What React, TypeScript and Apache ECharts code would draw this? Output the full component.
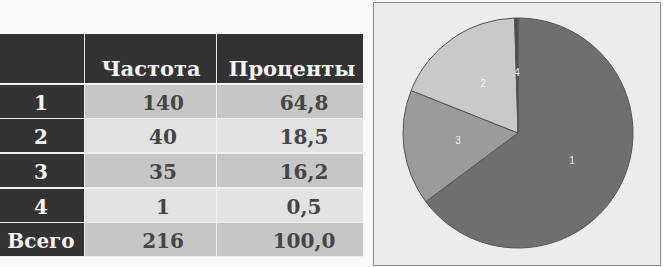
import React, { useEffect, useRef } from "react";
import * as echarts from "echarts";

const categories = ["1", "2", "3", "4"];
const frequencies = [140, 40, 35, 1];
const percents = ["64,8", "18,5", "16,2", "0,5"];
const totalLabel = "Всего";
const totalFrequency = 216;
const totalPercent = "100,0";
const headers = ["", "Частота", "Проценты"];
const pieOrder = ["1", "3", "2", "4"];
const sliceColors: Record<string, string> = {
  "1": "#6f6f6f",
  "2": "#c9c9c9",
  "3": "#9b9b9b",
  "4": "#4a4a4a",
};

export default function App() {
  const ref = useRef<HTMLDivElement>(null);
  useEffect(() => {
    if (!ref.current) return;
    const chart = echarts.init(ref.current, undefined, { renderer: "svg" });
    const font = "'DejaVu Serif', serif";
    const colX = [0, 85, 217];
    const colW = [84, 131, 146];
    const rowTops = [85, 119, 154, 189, 223];
    const rowH = 33;
    const els: any[] = [];
    els.push({ type: "rect", shape: { x: 0, y: 34, width: 363, height: 49 }, style: { fill: "#e8e8e8" }, z: 0 });
    colX.forEach((x, i) => {
      els.push({ type: "rect", shape: { x, y: 34, width: colW[i], height: 49 }, style: { fill: "#333333" }, z: 1 });
    });
    const headerCenters = [42, 151, 292];
    headers.forEach((h, i) => {
      if (!h) return;
      els.push({
        type: "text",
        x: headerCenters[i],
        y: 68,
        style: { text: h, fill: "#f4f4f4", font: `bold 21px ${font}`, textAlign: "center", textVerticalAlign: "middle" },
        z: 2,
      });
    });
    const rows = categories.map((c, i) => [c, String(frequencies[i]), percents[i]]);
    rows.push([totalLabel, String(totalFrequency), totalPercent]);
    const textCenters = [41, 163, 304];
    rows.forEach((r, ri) => {
      const y = rowTops[ri];
      const fill = ri % 2 === 0 ? "#c6c6c6" : "#e2e2e2";
      els.push({ type: "rect", shape: { x: 0, y: y - 1, width: 363, height: rowH + 2 }, style: { fill: "#efefef" }, z: 0 });
      colX.forEach((x, ci) => {
        els.push({
          type: "rect",
          shape: { x, y, width: colW[ci], height: rowH },
          style: { fill: ci === 0 ? "#333333" : fill },
          z: 1,
        });
        els.push({
          type: "text",
          x: textCenters[ci],
          y: y + rowH / 2 + 1,
          style: {
            text: r[ci],
            fill: ci === 0 ? "#f4f4f4" : "#454545",
            font: `bold 20px ${font}`,
            textAlign: "center",
            textVerticalAlign: "middle",
          },
          z: 2,
        });
      });
    });
    els.push({
      type: "rect",
      shape: { x: 373.5, y: 2.5, width: 287, height: 263 },
      style: { fill: "#ececec", stroke: "#8a8a8a", lineWidth: 1 },
      z: 0,
    });

    const pieData = pieOrder.map((c) => {
      const i = categories.indexOf(c);
      return { name: c, value: frequencies[i], itemStyle: { color: sliceColors[c] } };
    });

    chart.setOption({
      animation: false,
      backgroundColor: "#f9f9f9",
      graphic: { elements: els },
      series: [
        {
          type: "pie",
          center: [518, 133],
          radius: 115,
          startAngle: 90,
          clockwise: true,
          data: pieData,
          itemStyle: { borderColor: "#555555", borderWidth: 1 },
          label: {
            show: true,
            position: "inside",
            formatter: "{b}",
            color: "#f2f2f2",
            fontSize: 10,
            fontFamily: "'Liberation Sans', Arial, sans-serif",
          },
          labelLine: { show: false },
          emphasis: { disabled: true },
        },
      ],
    });
    return () => chart.dispose();
  }, []);
  return <div ref={ref} style={{ position: "fixed", left: 0, top: 0, width: 663, height: 267 }} />;
}
